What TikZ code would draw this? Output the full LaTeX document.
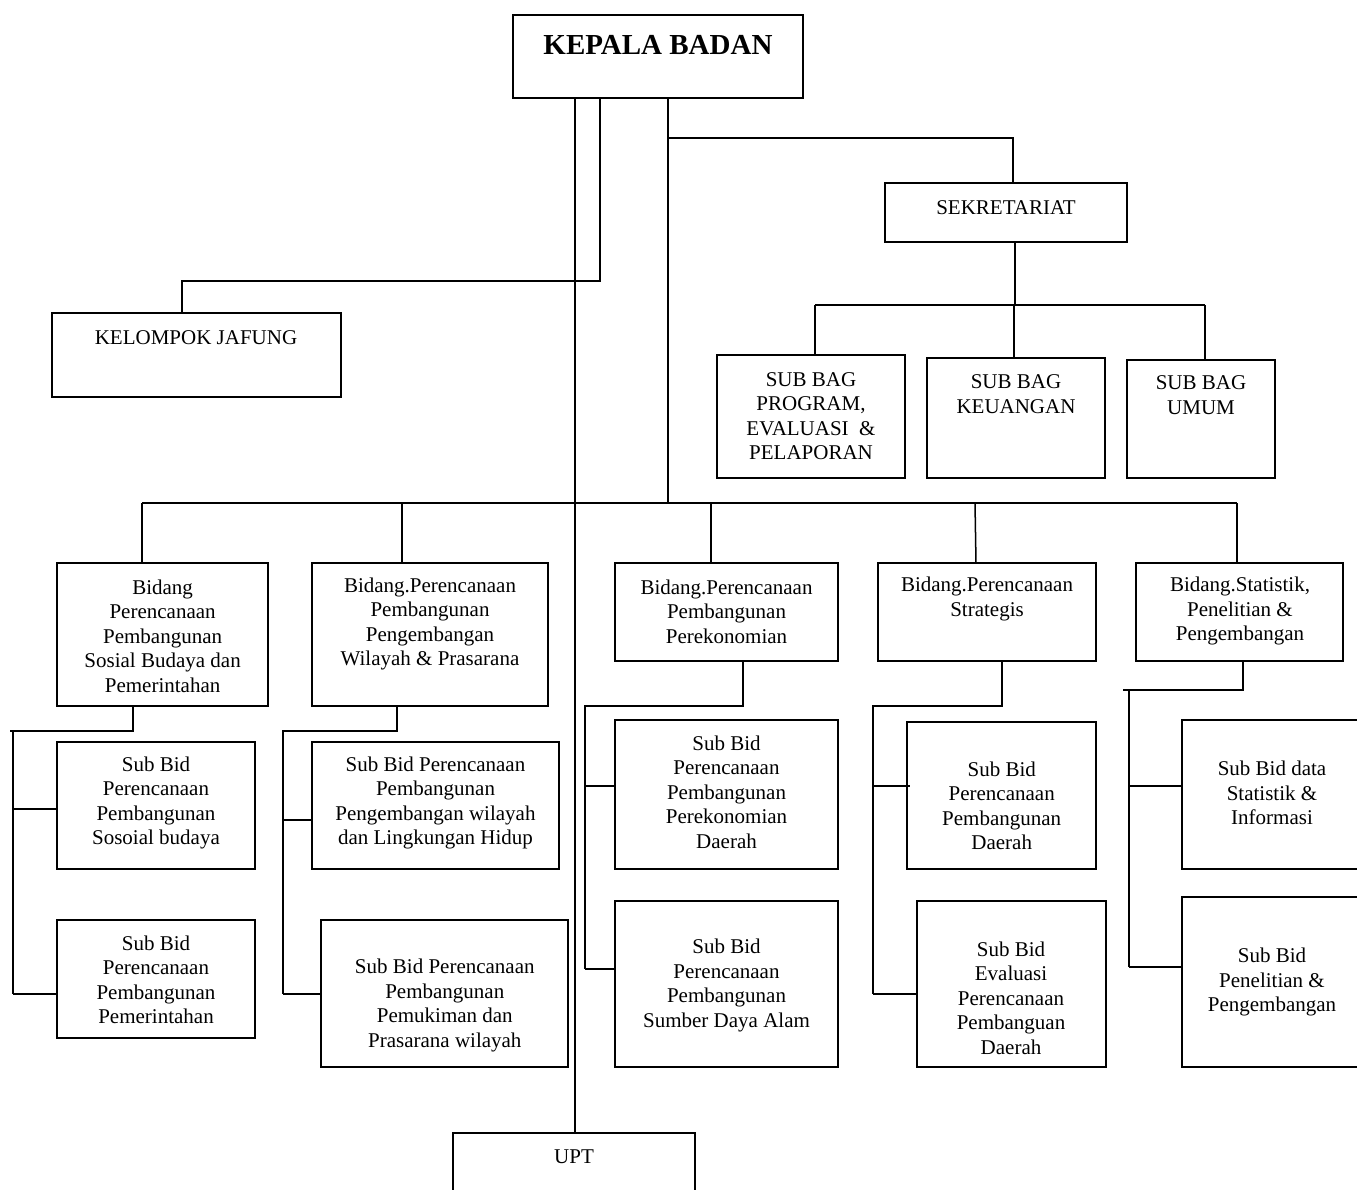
\documentclass[tikz,border=0pt]{standalone}
\usepackage{fontspec}
\setmainfont{Liberation Serif}
\usetikzlibrary{fit}
\tikzset{
  box/.style={draw=black, line width=1.8pt, rectangle, inner sep=0pt},
  txt/.style={align=center, inner sep=0pt, font=\fontsize{21}{24.5}\selectfont},
  conn/.style={draw=black, line width=1.5pt}
}
\newcommand{\orgbox}[5]{\node[box, fit={(#2,#3) (#4,#5)}] (#1) {};}
\begin{document}
\begin{tikzpicture}[x=1pt,y=-1pt]
\useasboundingbox (0,0) rectangle (1357,1189);
\clip (0,0) rectangle (1357,1189);
% boxes
\orgbox{kepala}{513}{15}{803}{98}
\orgbox{kelompok}{52}{313}{341}{397}
\orgbox{sek}{885}{183}{1127}{242}
\orgbox{sbprog}{717}{355}{905}{478}
\orgbox{sbkeu}{927}{358}{1105}{478}
\orgbox{sbumum}{1127}{360}{1275}{478}
\orgbox{bid1}{57}{563}{268}{706}
\orgbox{bid2}{312}{563}{548}{706}
\orgbox{bid3}{615}{563}{838}{661}
\orgbox{bid4}{878}{563}{1096}{661}
\orgbox{bid5}{1136}{563}{1343}{661}
\orgbox{s1a}{57}{742}{255}{869}
\orgbox{s1b}{57}{920}{255}{1038}
\orgbox{s2a}{312}{742}{559}{869}
\orgbox{s2b}{321}{920}{568}{1067}
\orgbox{s3a}{615}{720}{838}{869}
\orgbox{s3b}{615}{901}{838}{1067}
\orgbox{s4a}{907}{722}{1096}{869}
\orgbox{s4b}{917}{901}{1106}{1067}
\orgbox{s5a}{1182}{720}{1362}{869}
\orgbox{s5b}{1182}{897}{1362}{1067}
\orgbox{upt}{453}{1133}{695}{1200}
% texts
\node[inner sep=0pt, font=\fontsize{29}{32}\selectfont\bfseries] (kepala-t) at (658,45) {KEPALA BADAN};
\node[txt] (kelompok-t) at (196,338) {KELOMPOK JAFUNG};
\node[txt] (sek-t) at (1006,208) {SEKRETARIAT};
\node[txt] (sbprog-t) at (811,416) {SUB BAG\\PROGRAM,\\EVALUASI \ \&\\PELAPORAN};
\node[txt] (sbkeu-t) at (1016,394) {SUB BAG\\KEUANGAN};
\node[txt] (sbumum-t) at (1201,395) {SUB BAG\\UMUM};
\node[txt] (bid1-t) at (162.6,636) {Bidang\\Perencanaan\\Pembangunan\\Sosial Budaya dan\\Pemerintahan};
\node[txt] (bid2-t) at (430,624) {Bidang.Perencanaan\\Pembangunan\\Pengembangan\\Wilayah \& Prasarana};
\node[txt] (bid3-t) at (726.5,611.5) {Bidang.Perencanaan\\Pembangunan\\Perekonomian};
\node[txt] (bid4-t) at (987,599) {Bidang.Perencanaan\\Strategis};
\node[txt] (bid5-t) at (1240,611) {Bidang.Statistik,\\Penelitian \&\\Pengembangan};
\node[txt] (s1a-t) at (156,803) {Sub Bid\\Perencanaan\\Pembangunan\\Sosoial budaya};
\node[txt] (s1b-t) at (156,980) {Sub Bid\\Perencanaan\\Pembangunan\\Pemerintahan};
\node[txt] (s2a-t) at (435.5,803) {Sub Bid Perencanaan\\Pembangunan\\Pengembangan wilayah\\dan Lingkungan Hidup};
\node[txt] (s2b-t) at (444.8,1005.5) {Sub Bid Perencanaan\\Pembangunan\\Pemukiman dan\\Prasarana wilayah};
\node[txt] (s3a-t) at (726.5,792) {Sub Bid\\Perencanaan\\Pembangunan\\Perekonomian\\Daerah};
\node[txt] (s3b-t) at (726.5,985.5) {Sub Bid\\Perencanaan\\Pembangunan\\Sumber Daya Alam};
\node[txt] (s4a-t) at (1001.7,806) {Sub Bid\\Perencanaan\\Pembangunan\\Daerah};
\node[txt] (s4b-t) at (1011,998) {Sub Bid\\Evaluasi\\Perencanaan\\Pembanguan\\Daerah};
\node[txt] (s5a-t) at (1272,793) {Sub Bid data\\Statistik \&\\Informasi};
\node[txt] (s5b-t) at (1272,982) {Sub Bid\\Penelitian \&\\Pengembangan};
\node[txt] (upt-t) at (574,1157) {UPT};
% coordinates
\coordinate (ka) at (575,98);
\coordinate (kb) at (600,98);
\coordinate (j1) at (600,281);
\coordinate (j2) at (182,281);
\coordinate (m0) at (668,98);
\coordinate (m1) at (668,138);
\coordinate (m2) at (1013,138);
\coordinate (bh) at (668,503);
\coordinate (s0) at (1015,242);
\coordinate (s1) at (1015,305);
\coordinate (sl) at (815,305);
\coordinate (sm) at (1014,305);
\coordinate (sr) at (1205,305);
\coordinate (bl) at (142,503);
\coordinate (b2) at (402,503);
\coordinate (b3) at (711,503);
\coordinate (b4) at (975,503);
\coordinate (br) at (1237,503);
% Kepala connectors
\draw[conn] (ka) -- (ka |- upt.north);
\draw[conn] (kb) -- (j1) -- (j2) -- (j2 |- kelompok.north);
\draw[conn] (m0) -- (bh);
\draw[conn] (m1) -- (m2) -- (m2 |- sek.north);
% Sekretariat
\draw[conn] (s0) -- (s1);
\draw[conn] (sl) -- (sr);
\draw[conn] (sl) -- (sl |- sbprog.north);
\draw[conn] (sm) -- (sm |- sbkeu.north);
\draw[conn] (sr) -- (sr |- sbumum.north);
% Bidang line
\draw[conn] (bl) -- (br);
\draw[conn] (bl) -- (bl |- bid1.north);
\draw[conn] (b2) -- (b2 |- bid2.north);
\draw[conn] (b3) -- (b3 |- bid3.north);
\draw[conn] (b4) -- (976,563);
\draw[conn] (br) -- (br |- bid5.north);
% Bidang 1
\coordinate (c1a) at (133,731);
\coordinate (c1b) at (10,731);
\coordinate (c1v) at (13,731);
\draw[conn] (c1a |- bid1.south) -- (c1a) -- (c1b);
\draw[conn] (c1v) -- (13,994);
\draw[conn] (13,809) -- (s1a.west |- 0,809);
\draw[conn] (13,994) -- (s1b.west |- 0,994);
% Bidang 2
\coordinate (c2a) at (397,731);
\coordinate (c2b) at (283,731);
\draw[conn] (c2a |- bid2.south) -- (c2a) -- (c2b) -- (283,994);
\draw[conn] (283,820) -- (s2a.west |- 0,820);
\draw[conn] (283,994) -- (s2b.west |- 0,994);
% Bidang 3
\coordinate (c3a) at (743,706);
\coordinate (c3b) at (585,706);
\draw[conn] (c3a |- bid3.south) -- (c3a) -- (c3b) -- (585,969);
\draw[conn] (585,786) -- (s3a.west |- 0,786);
\draw[conn] (585,969) -- (s3b.west |- 0,969);
% Bidang 4
\coordinate (c4a) at (1002,706);
\coordinate (c4b) at (873,706);
\draw[conn] (c4a |- bid4.south) -- (c4a) -- (c4b) -- (873,994);
\draw[conn] (873,786) -- (910,786);
\draw[conn] (873,994) -- (s4b.west |- 0,994);
% Bidang 5
\coordinate (c5a) at (1243,690);
\coordinate (c5b) at (1123,690);
\draw[conn] (c5a |- bid5.south) -- (c5a) -- (c5b);
\draw[conn] (1129,690) -- (1129,967);
\draw[conn] (1129,786) -- (s5a.west |- 0,786);
\draw[conn] (1129,967) -- (s5b.west |- 0,967);
\end{tikzpicture}
\end{document}
